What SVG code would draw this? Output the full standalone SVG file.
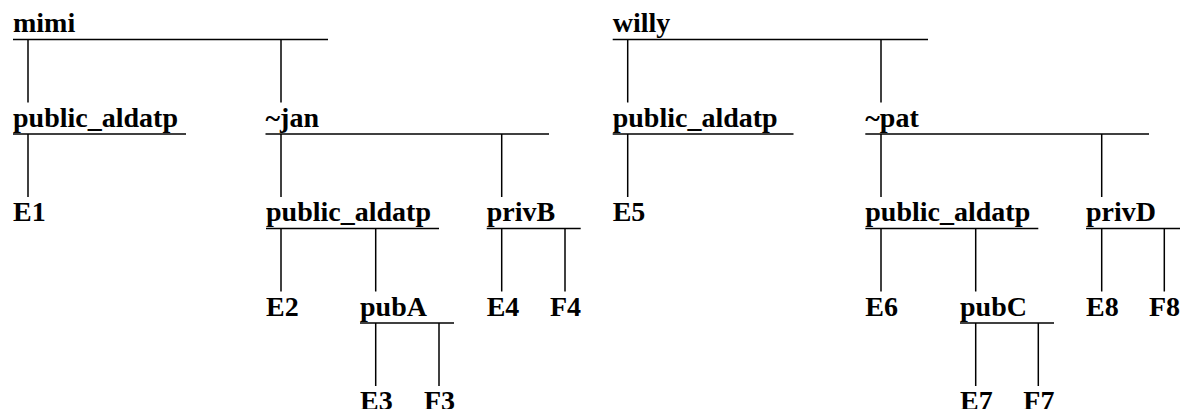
<svg xmlns="http://www.w3.org/2000/svg" width="1180" height="409" viewBox="0 0 1180 409">
<style>
text{font-family:"Liberation Serif","Times New Roman",serif;font-weight:bold;font-size:28px;fill:#000}
line{stroke:#000;stroke-width:1.5}
</style>
<rect width="1180" height="409" fill="#fff"/>
<g id="connectors">
<line x1="28" y1="39.5" x2="28" y2="102.5"/>
<line x1="281" y1="39.5" x2="281" y2="102.5"/>
<line x1="28" y1="134" x2="28" y2="197"/>
<line x1="281" y1="134" x2="281" y2="197"/>
<line x1="501.7" y1="134" x2="501.7" y2="197"/>
<line x1="281" y1="228.5" x2="281" y2="291.5"/>
<line x1="375.7" y1="228.5" x2="375.7" y2="291.5"/>
<line x1="501.7" y1="228.5" x2="501.7" y2="291.5"/>
<line x1="565" y1="228.5" x2="565" y2="291.5"/>
<line x1="375.7" y1="323" x2="375.7" y2="386"/>
<line x1="439" y1="323" x2="439" y2="386"/>
<line x1="627.7" y1="39.5" x2="627.7" y2="102.5"/>
<line x1="881" y1="39.5" x2="881" y2="102.5"/>
<line x1="627.7" y1="134" x2="627.7" y2="197"/>
<line x1="881" y1="134" x2="881" y2="197"/>
<line x1="1101.7" y1="134" x2="1101.7" y2="197"/>
<line x1="881" y1="228.5" x2="881" y2="291.5"/>
<line x1="975.7" y1="228.5" x2="975.7" y2="291.5"/>
<line x1="1101.7" y1="228.5" x2="1101.7" y2="291.5"/>
<line x1="1164.3" y1="228.5" x2="1164.3" y2="291.5"/>
<line x1="975.7" y1="323" x2="975.7" y2="386"/>
<line x1="1038.3" y1="323" x2="1038.3" y2="386"/>
</g>
<g id="mimi"><text x="13" y="32.2">mimi</text><line x1="13" y1="39.5" x2="328" y2="39.5"/></g>
<g id="public_aldatp1"><text x="13" y="126.7">public_aldatp</text><line x1="13" y1="134" x2="186" y2="134"/></g>
<g id="jan"><text x="265.5" y="126.7">~jan</text><line x1="265.5" y1="134" x2="549" y2="134"/></g>
<g id="E1"><text x="13" y="221.2">E1</text></g>
<g id="public_aldatp2"><text x="266" y="221.2">public_aldatp</text><line x1="266" y1="228.5" x2="439" y2="228.5"/></g>
<g id="privB"><text x="486.7" y="221.2">privB</text><line x1="486.7" y1="228.5" x2="580.7" y2="228.5"/></g>
<g id="E2"><text x="266" y="315.7">E2</text></g>
<g id="pubA"><text x="360" y="315.7">pubA</text><line x1="360" y1="323" x2="454" y2="323"/></g>
<g id="E4"><text x="486.7" y="315.7">E4</text></g>
<g id="F4"><text x="550" y="315.7">F4</text></g>
<g id="E3"><text x="360" y="410.2">E3</text></g>
<g id="F3"><text x="424" y="410.2">F3</text></g>
<g id="willy"><text x="612.7" y="32.2">willy</text><line x1="612.7" y1="39.5" x2="928" y2="39.5"/></g>
<g id="public_aldatp3"><text x="612.7" y="126.7">public_aldatp</text><line x1="612.7" y1="134" x2="793.5" y2="134"/></g>
<g id="pat"><text x="865.3" y="126.7">~pat</text><line x1="865.3" y1="134" x2="1149" y2="134"/></g>
<g id="E5"><text x="612.7" y="221.2">E5</text></g>
<g id="public_aldatp4"><text x="865.3" y="221.2">public_aldatp</text><line x1="865.3" y1="228.5" x2="1038.3" y2="228.5"/></g>
<g id="privD"><text x="1086" y="221.2">privD</text><line x1="1086" y1="228.5" x2="1180" y2="228.5"/></g>
<g id="E6"><text x="865.3" y="315.7">E6</text></g>
<g id="pubC"><text x="960" y="315.7">pubC</text><line x1="960" y1="323" x2="1054" y2="323"/></g>
<g id="E8"><text x="1086" y="315.7">E8</text></g>
<g id="F8"><text x="1149" y="315.7">F8</text></g>
<g id="E7"><text x="960" y="410.2">E7</text></g>
<g id="F7"><text x="1023.3" y="410.2">F7</text></g>
</svg>
